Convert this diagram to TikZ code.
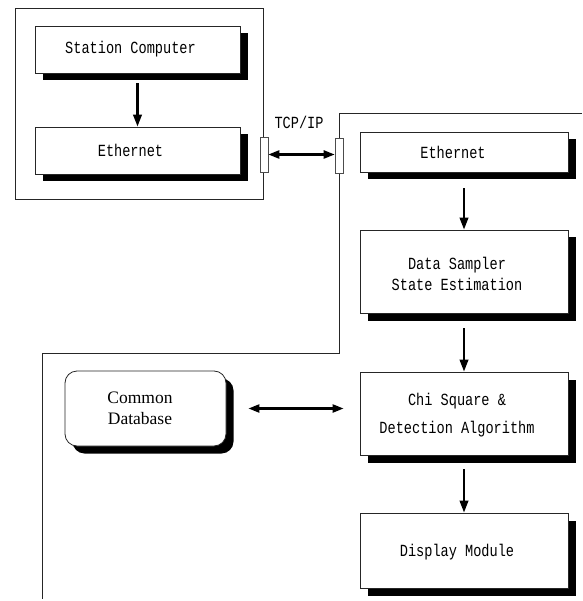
\documentclass[tikz,border=0pt]{standalone}
\usepackage{fontspec}
\setmainfont{Liberation Mono}[FakeStretch=0.8]
\newfontfamily\dbfont{Liberation Serif}
\usetikzlibrary{shadows,arrows.meta}
\begin{document}
\begin{tikzpicture}[x=1pt,y=-1pt,
  box/.style={draw=black!85, line width=0.8pt, fill=white, minimum width=208pt,
    drop shadow={shadow xshift=7.5pt, shadow yshift=-7.5pt, fill=black, opacity=1},
    inner sep=0pt},
  plain/.style={font=\fontsize{17}{21}\selectfont, align=center, inner sep=0pt},
  txt/.style={plain, xshift=-7pt},
  conn/.style={draw=black!70, line width=0.6pt, fill=white, minimum width=8pt, minimum height=35pt, inner sep=0pt},
  arr/.style={line width=2.3pt, -{Triangle[length=12pt,width=8.5pt]}},
  darr/.style={line width=2.3pt, {Triangle[length=11pt,width=8pt]}-{Triangle[length=11pt,width=8pt]}},
  frame/.style={draw=black!85, line width=0.8pt}]
\useasboundingbox (0,0) rectangle (582,601);
% frames
\draw[frame] (15,8) rectangle (263.5,199);
\draw[frame] (582,113) -- (339,113) -- (339,353) -- (42,353) -- (42,599);
% left system
\node[box, minimum width=205pt, minimum height=47pt, label={[txt]center:Station Computer}] (sc) at (137.5,49.5) {};
\node[box, minimum width=205pt, minimum height=47pt, label={[txt]center:Ethernet}] (el) at (137.5,150.5) {};
% connectors
\node[conn] (lc) at (264,154.5) {};
\node[conn] (rc) at (339,155.5) {};
\node[plain] (tcp) at (299,122) {TCP/IP};
% right system
\node[box, minimum height=40pt, label={[txt, xshift=-4pt]center:Ethernet}] (er) at (464,152) {};
\node[box, minimum height=83pt, label={[txt, yshift=-2pt]center:{Data Sampler\\State Estimation}}] (ds) at (464,271.5) {};
\node[box, minimum height=83pt, label={[txt, yshift=-2pt, font=\fontsize{17}{28}\selectfont]center:{Chi Square \&\\Detection Algorithm}}] (chi) at (464,413.5) {};
\node[box, minimum height=75pt, label={[txt, yshift=-1.5pt]center:Display Module}] (dm) at (464,550.5) {};
\node[box, minimum width=161pt, minimum height=75pt, rounded corners=12pt,
  label={[txt, xshift=1.5pt, font=\dbfont\fontsize{17.5}{21}\selectfont]center:{Common\\Database}}] (db) at (145.5,408.5) {};
% arrows
\draw[arr, shorten <=10pt] (sc.south) -- (el.north);
\draw[arr, shorten <=16pt] (er.south) -- (ds.north);
\draw[arr, shorten <=15pt] (ds.south) -- (chi.north);
\draw[arr, shorten <=14pt] (chi.south) -- (dm.north);
\draw[darr] (lc.east) -- (rc.west |- lc.east);
\draw[darr, shorten <=22pt, shorten >=16pt] (db.east) -- (db.east -| chi.west);
\end{tikzpicture}
\end{document}
